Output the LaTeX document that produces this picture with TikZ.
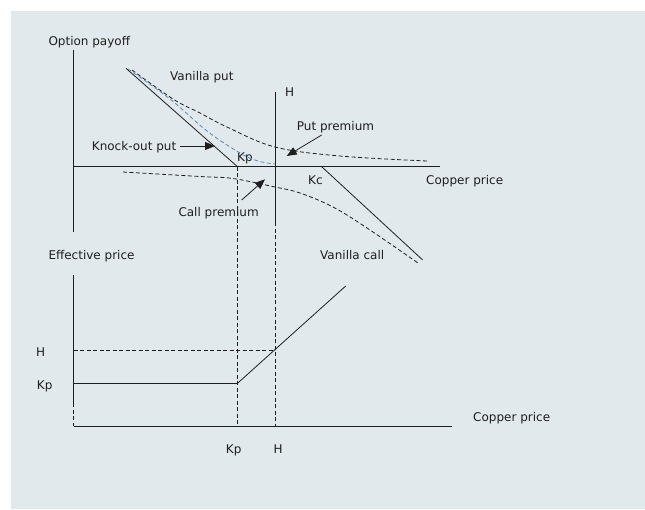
\documentclass[tikz,border=0pt]{standalone}
\usepackage{fontspec}
\setmainfont{DejaVu Sans}
\usetikzlibrary{arrows.meta}
\definecolor{bg}{HTML}{E2E9ED}
\definecolor{ink}{HTML}{1E1E1E}
\definecolor{kob}{HTML}{4E8DB4}
\begin{document}
\begin{tikzpicture}[x=1pt,y=-1pt,
  font=\fontsize{12}{14}\selectfont,
  lbl/.style={inner sep=0pt, anchor=base west, text=ink},
  ax/.style={draw=ink, line width=0.9pt},
  sol/.style={draw=ink, line width=0.8pt},
  dsh/.style={draw=ink, line width=0.8pt, dash pattern=on 4pt off 2.5pt},
  bdsh/.style={draw=kob, line width=0.8pt, dash pattern=on 4pt off 2.5pt},
  arr/.style={draw=ink, line width=0.8pt, -{Triangle[length=10pt,width=8pt]}}]
\useasboundingbox (0,0) rectangle (645,509);
\fill[white] (0,0) rectangle (645,509);
\fill[bg] (11,11) rectangle (645,509);

% coordinates
\coordinate (yTtop) at (73.5,49.5);
\coordinate (yTbot) at (73.5,232);
\coordinate (xTl) at (73.5,166.7);
\coordinate (xTr) at (440,166.7);
\coordinate (Htop) at (275,91.7);
\coordinate (Hmid) at (275,222);
\coordinate (Hbot) at (275,426);
\coordinate (KpT) at (237.5,166.7);
\coordinate (KpB) at (237.5,426);
\coordinate (koS) at (126,68.3);
\coordinate (kcS) at (321.7,166.7);
\coordinate (kcE) at (422.7,260);
\coordinate (yBtop) at (73.5,275);
\coordinate (yBmid) at (73.5,403);
\coordinate (yBbot) at (73.5,426);
\coordinate (xBr) at (452,426);
\coordinate (hL) at (73.5,350.3);
\coordinate (hR) at (275,350.3);
\coordinate (kpL) at (73.5,383.3);
\coordinate (kpR) at (237.5,383.3);
\coordinate (diagE) at (345.7,286);
\coordinate (koA) at (180,146);
\coordinate (koT) at (215,146);
\coordinate (ppA) at (321.7,135);
\coordinate (ppT) at (286.7,156);
\coordinate (cpA) at (241.7,200);
\coordinate (cpT) at (265,179.3);

% labels
\node[lbl] (lOpt) at (48.3,45) {Option payoff};
\node[lbl] (lVput) at (170,80) {Vanilla put};
\node[lbl] (lHtop) at (285,96.7) {H};
\node[lbl] (lPut) at (296.7,130) {Put premium};
\node[lbl] (lKo) at (91.7,150) {Knock-out put};
\node[lbl] (lKpT) at (237,161.7) {Kp};
\node[lbl] (lKc) at (308,184) {Kc};
\node[lbl] (lCopT) at (426,184.3) {Copper price};
\node[lbl] (lCall) at (178.3,216) {Call premium};
\node[lbl] (lVcall) at (320,259) {Vanilla call};
\node[lbl] (lEff) at (48.3,259.3) {Effective price};
\node[lbl] (lHL) at (36,356) {H};
\node[lbl] (lKpL) at (36.7,389) {Kp};
\node[lbl] (lCopB) at (473,421) {Copper price};
\node[lbl] (lKpB) at (225.7,453.3) {Kp};
\node[lbl] (lHB) at (273.3,453.3) {H};

% top chart axes
\draw[ax] (yTtop) -- (yTbot);
\draw[ax] (xTl) -- (xTr);
\draw[sol] (Htop) -- (Hmid);
\draw[dsh] (Hmid) -- (Hbot);
\draw[dsh] (KpT) -- (KpB);

% payoff lines
\draw[sol] (koS) -- (KpT);
\draw[sol] (kcS) -- (kcE);

% curves
\draw[dsh] plot[smooth, tension=0.6] coordinates {(132,70) (173,99) (200,113) (227,127) (275,147) (340,156) (427,161)};
\draw[bdsh] plot[smooth, tension=0.6] coordinates {(128,69) (170,99) (207,131) (240,153) (258,161) (275,164)};
\draw[dsh] plot[smooth, tension=0.6] coordinates {(123,172) (200,176.5) (233,178.5) (275,187) (300,193) (333,207) (367,228) (418,263)};

% arrows
\draw[arr] (koA) -- (koT);
\draw[arr] (ppA) -- (ppT);
\draw[arr] (cpA) -- (cpT);

% lower chart
\draw[ax] (yBtop) -- (yBmid);
\draw[dsh] (yBmid) -- (yBbot);
\draw[ax] (yBbot) -- (xBr);
\draw[dsh] (hL) -- (hR);
\draw[sol] (kpL) -- (kpR);
\draw[sol] (kpR) -- (diagE);
\end{tikzpicture}
\end{document}
